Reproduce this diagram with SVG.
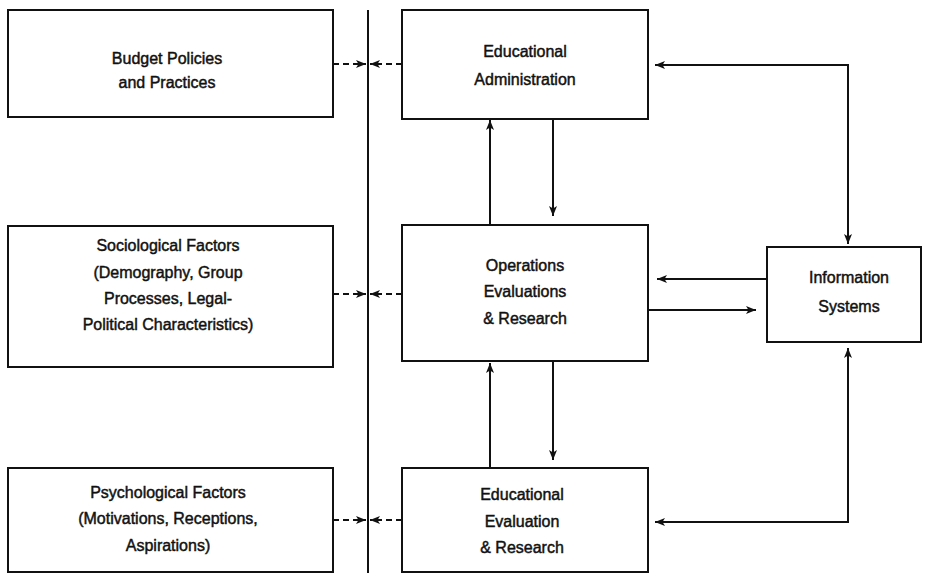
<svg xmlns="http://www.w3.org/2000/svg" width="928" height="573" viewBox="0 0 928 573">
<defs>
<marker id="ah" viewBox="0 0 10 8" refX="10" refY="4" markerWidth="10" markerHeight="8" markerUnits="userSpaceOnUse" orient="auto-start-reverse">
<path d="M0,0 L10,4 L0,8 L2.5,4 Z" fill="#111"/>
</marker>
<style>
.box{fill:#fff;stroke:#111;stroke-width:2}
.t{font-family:"Liberation Sans",Arial,sans-serif;font-size:16px;fill:#111;stroke:#111;stroke-width:0.45;text-anchor:middle}
.ln{fill:none;stroke:#111;stroke-width:2}
.dash{fill:none;stroke:#111;stroke-width:2;stroke-dasharray:6 4}
</style>
</defs>
<rect width="928" height="573" fill="#fff"/>
<g id="budget">
<rect class="box" x="8" y="10" width="325" height="107"/>
<text class="t" x="167" y="64">Budget Policies</text>
<text class="t" x="167" y="88">and Practices</text>
</g>
<g id="sociological">
<rect class="box" x="8" y="226" width="325" height="141"/>
<text class="t" x="168" y="251">Sociological Factors</text>
<text class="t" x="168" y="278">(Demography, Group</text>
<text class="t" x="168" y="304">Processes, Legal-</text>
<text class="t" x="168" y="330">Political Characteristics)</text>
</g>
<g id="psychological">
<rect class="box" x="8" y="468" width="325" height="104"/>
<text class="t" x="168" y="498">Psychological Factors</text>
<text class="t" x="168" y="524">(Motivations, Receptions,</text>
<text class="t" x="168" y="551">Aspirations)</text>
</g>
<g id="admin">
<rect class="box" x="402" y="10" width="246" height="109"/>
<text class="t" x="525" y="57">Educational</text>
<text class="t" x="525" y="85">Administration</text>
</g>
<g id="operations">
<rect class="box" x="402" y="225" width="246" height="136"/>
<text class="t" x="525" y="271">Operations</text>
<text class="t" x="525" y="297">Evaluations</text>
<text class="t" x="525" y="324">&amp; Research</text>
</g>
<g id="evaluation">
<rect class="box" x="402" y="468" width="246" height="104"/>
<text class="t" x="522" y="500">Educational</text>
<text class="t" x="522" y="527">Evaluation</text>
<text class="t" x="522" y="553">&amp; Research</text>
</g>
<g id="info">
<rect class="box" x="767" y="247" width="154" height="95"/>
<text class="t" x="849" y="283">Information</text>
<text class="t" x="849" y="312">Systems</text>
</g>
<g id="connectors">
<line class="ln" x1="368" y1="10" x2="368" y2="573"/>
<line class="dash" x1="333" y1="64" x2="366" y2="64" marker-end="url(#ah)"/>
<line class="dash" x1="402" y1="64" x2="370" y2="64" marker-end="url(#ah)"/>
<line class="dash" x1="333" y1="294" x2="366" y2="294" marker-end="url(#ah)"/>
<line class="dash" x1="402" y1="294" x2="370" y2="294" marker-end="url(#ah)"/>
<line class="dash" x1="333" y1="520" x2="366" y2="520" marker-end="url(#ah)"/>
<line class="dash" x1="402" y1="520" x2="370" y2="520" marker-end="url(#ah)"/>
<line class="ln" x1="490" y1="225" x2="490" y2="120" marker-end="url(#ah)"/>
<line class="ln" x1="553" y1="119" x2="553" y2="216" marker-end="url(#ah)"/>
<line class="ln" x1="490" y1="468" x2="490" y2="363" marker-end="url(#ah)"/>
<line class="ln" x1="553" y1="361" x2="553" y2="460" marker-end="url(#ah)"/>
<polyline class="ln" points="655,65 848,65 848,244" marker-start="url(#ah)" marker-end="url(#ah)"/>
<line class="ln" x1="767" y1="279" x2="657" y2="279" marker-end="url(#ah)"/>
<line class="ln" x1="648" y1="310" x2="756" y2="310" marker-end="url(#ah)"/>
<polyline class="ln" points="655,522 848,522 848,348" marker-start="url(#ah)" marker-end="url(#ah)"/>
</g>
</svg>
